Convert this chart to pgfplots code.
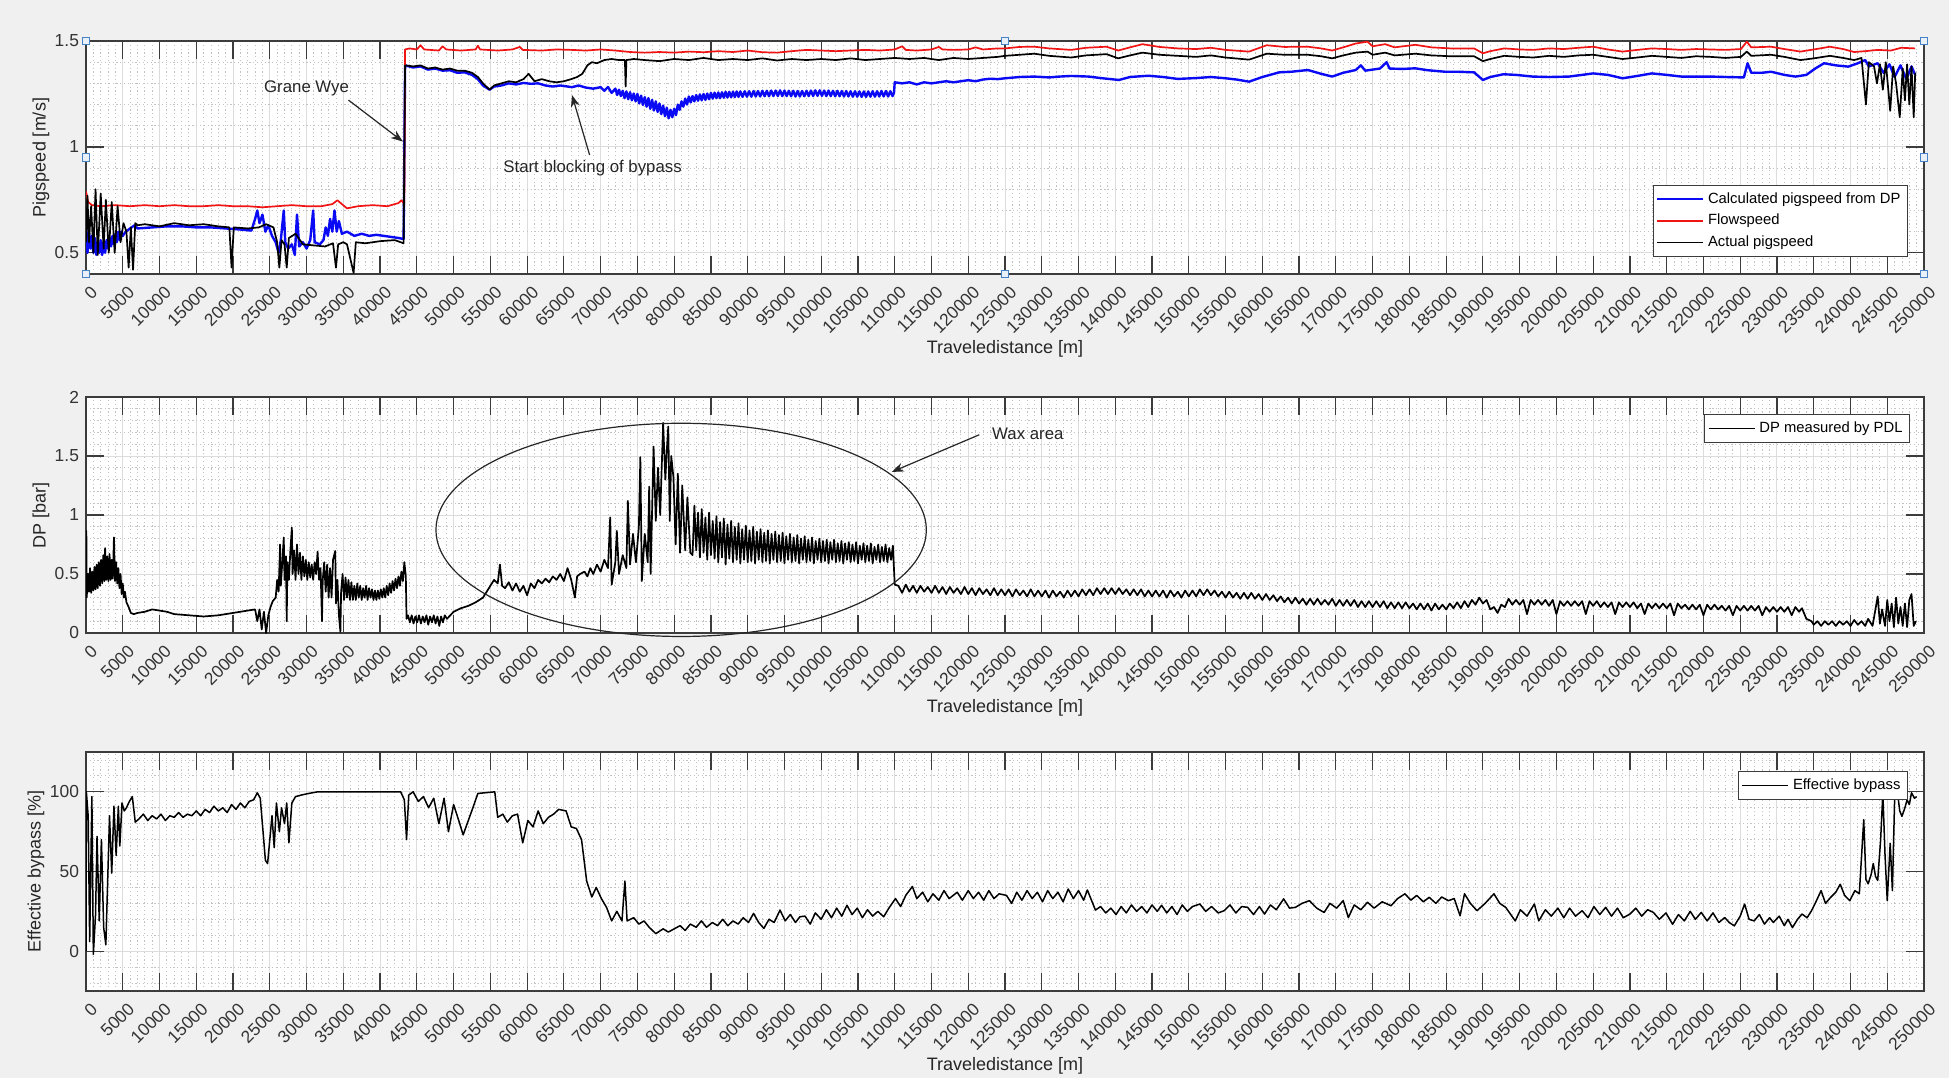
\documentclass[border=0pt]{standalone}
\usepackage{fontspec}
\setmainfont{Liberation Sans}
\usepackage{pgfplots}
\pgfplotsset{compat=1.18}
\usetikzlibrary{arrows.meta}
\definecolor{figbg}{RGB}{240,240,240}
\definecolor{axcol}{RGB}{60,60,60}
\definecolor{gridmaj}{RGB}{220,220,220}
\definecolor{gridmin}{RGB}{195,195,195}
\definecolor{mred}{RGB}{240,20,20}
\definecolor{mblue}{RGB}{10,10,245}
\definecolor{handleblue}{RGB}{70,130,200}
\tikzset{handle/.style={draw=handleblue, fill=handleblue!12, minimum size=3.8pt, inner sep=0pt, line width=0.5pt}}
\pgfplotsset{
 mlab/.style={
  scale only axis, width=919pt,
  xmin=0, xmax=250, xtick={0,5,...,250},
  xticklabels={0,5000,10000,15000,20000,25000,30000,35000,40000,45000,50000,55000,60000,65000,70000,75000,80000,85000,90000,95000,100000,105000,110000,115000,120000,125000,130000,135000,140000,145000,150000,155000,160000,165000,170000,175000,180000,185000,190000,195000,200000,205000,210000,215000,220000,225000,230000,235000,240000,245000,250000},
  minor x tick num=4, minor y tick num=4,
  grid=both,
  major grid style={gridmaj, line width=0.5pt},
  minor grid style={gridmin, line width=0.45pt, dash pattern=on 0.6pt off 1.3pt},
  axis line style={axcol, line width=0.6pt},
  major tick style={axcol, line width=0.6pt},
  major tick length=9pt, minor tick length=0pt,
  tick align=inside,
  axis background/.style={fill=white},
  tick label style={font=\fontsize{8.7}{9.5}\selectfont, text=black!80},
  xticklabel style={xshift=2pt, yshift=-3pt, rotate=45, anchor=north east, inner sep=1.5pt},
  /pgf/number format/assume math mode=true,
  label style={font=\fontsize{9}{10}\selectfont, text=black!85},
  xlabel={Traveledistance [m]},
  xlabel style={at={(axis description cs:0.5,0)}, anchor=center, yshift=-37.5pt},
  legend style={font=\fontsize{7.4}{8.6}\selectfont, draw=axcol, line width=0.5pt, fill=white, inner sep=1.5pt, nodes={inner sep=2pt}},
  legend cell align=left,
  legend image code/.code={\draw[#1, line width=0.8pt] (0pt,0pt) -- (23pt,0pt);},
  clip mode=individual,
  every axis plot/.append style={line join=round, no markers},
 }
}
\begin{document}
\begin{tikzpicture}
\useasboundingbox (0,0) rectangle (974.5pt,539pt);
\fill[figbg] (0,0) rectangle (974.5pt,539pt);

% ---------------- TOP ----------------
\begin{axis}[mlab, at={(43pt,402pt)}, anchor=south west, height=116.5pt,
  ymin=0.4, ymax=1.5, ytick={0,0.5,1,1.5},
  ylabel={Pigspeed [m/s]},
  ylabel style={at={(axis description cs:-0.0245,0.5)}, anchor=center},
  legend style={at={(axis description cs:1,0)}, anchor=south east, xshift=-8pt, yshift=8.5pt}]
\addplot[mblue, line width=1.2pt] coordinates {
(0,0.62)(0.2,0.5)(0.4,0.6)(0.6,0.52)(0.8,0.58)(1.0,0.5)(1.2,0.57)(1.4,0.49)(1.6,0.55)(1.8,0.5)(2.0,0.56)(2.2,0.49)(2.4,0.55)(2.6,0.5)(2.8,0.56)(3.0,0.52)(3.2,0.57)(3.4,0.53)(3.6,0.58)(3.8,0.54)(4.0,0.59)(4.2,0.55)(4.4,0.6)(4.6,0.56)(4.8,0.6)(5.0,0.58)(5.4,0.6)(5.8,0.61)(6.2,0.62)(6.6,0.63)(7,0.615)(9,0.62)(11,0.625)(13,0.625)(15,0.62)(17,0.62)(19,0.615)(21,0.61)(22.5,0.605)(23,0.66)(23.3,0.7)(23.6,0.64)(24,0.68)(24.4,0.6)(24.8,0.63)(25.3,0.58)(25.8,0.55)(26.2,0.5)(26.5,0.56)(26.9,0.7)(27.1,0.55)(27.5,0.52)(28,0.54)(28.4,0.49)(28.7,0.68)(29,0.53)(29.5,0.55)(30,0.52)(30.5,0.56)(30.9,0.7)(31.1,0.55)(31.8,0.54)(32.3,0.56)(32.6,0.62)(32.9,0.58)(33.2,0.66)(33.5,0.6)(33.8,0.7)(34.1,0.6)(34.4,0.65)(34.8,0.59)(35.5,0.6)(36.5,0.58)(37.5,0.59)(38.5,0.58)(39.5,0.585)(40.5,0.58)(41.5,0.575)(42.5,0.57)(43.2,0.565)(43.4,1.385)
(44.5,1.375)(45.5,1.38)(46.5,1.365)(47.5,1.37)(48.5,1.36)(49.5,1.362)(50.5,1.35)(51.5,1.352)(52.5,1.34)(53.3,1.32)(54,1.29)(54.9,1.27)(55.5,1.285)(56.5,1.29)(57.5,1.3)(58.5,1.295)(59.5,1.302)(60.5,1.298)(61.5,1.3)(62.5,1.29)(63.5,1.285)(64.5,1.29)(65.5,1.285)(66.1,1.282)(67,1.29)(68,1.28)(69,1.275)(70,1.282)(70.5,1.265)(71,1.283)(71.5,1.255)
(72,1.275)(72.25,1.245)(72.5,1.27)(72.75,1.24)(73,1.265)(73.25,1.23)(73.5,1.262)(73.75,1.225)(74,1.258)(74.25,1.22)(74.5,1.252)(74.75,1.215)(75,1.25)(75.25,1.205)(75.5,1.242)(75.75,1.198)(76,1.235)(76.25,1.19)(76.5,1.23)(76.75,1.18)(77,1.222)(77.25,1.172)(77.5,1.215)(77.75,1.165)(78,1.205)(78.25,1.155)(78.5,1.195)(78.75,1.145)(79,1.185)(79.25,1.135)(79.5,1.175)(79.75,1.14)(80,1.18)(80.25,1.15)(80.5,1.2)(80.75,1.175)(81,1.215)(81.25,1.19)(81.5,1.228)(81.75,1.2)(82,1.238)(82.25,1.21)(82.5,1.24)(82.75,1.215)(83,1.245)(83.25,1.218)(83.5,1.248)(83.75,1.22)(84,1.25)(84.25,1.222)(84.5,1.252)(84.75,1.225)(85,1.255)(85.25,1.228)(85.5,1.256)(85.75,1.23)(86,1.257)(86.25,1.23)(86.5,1.258)(86.75,1.232)(87,1.26)(87.25,1.233)(87.5,1.26)(87.75,1.234)(88,1.261)(88.25,1.235)(88.5,1.262)(88.75,1.236)(89,1.262)(89.3,1.236)(89.6,1.263)(89.9,1.237)(90.2,1.263)(90.5,1.237)(90.8,1.264)(91.1,1.238)(91.4,1.264)(91.7,1.238)(92,1.265)(92.3,1.239)(92.6,1.265)(92.9,1.239)(93.2,1.266)(93.5,1.24)(93.8,1.266)(94.1,1.24)(94.4,1.267)(94.7,1.24)(95,1.266)(95.3,1.24)(95.6,1.265)(95.9,1.239)(96.2,1.265)(96.5,1.238)(96.8,1.264)(97.1,1.238)(97.4,1.264)(97.7,1.239)(98,1.265)(98.3,1.24)(98.6,1.266)(98.9,1.24)(99.2,1.267)(99.5,1.241)(99.8,1.267)(100.1,1.241)(100.4,1.266)(100.7,1.24)(101,1.266)(101.3,1.24)(101.6,1.265)(101.9,1.239)(102.2,1.265)(102.5,1.239)(102.8,1.264)(103.1,1.238)(103.4,1.264)(103.7,1.238)(104,1.263)(104.3,1.237)(104.6,1.263)(104.9,1.237)(105.2,1.262)(105.5,1.236)(105.8,1.262)(106.1,1.236)(106.4,1.262)(106.7,1.237)(107,1.263)(107.3,1.237)(107.6,1.263)(107.9,1.238)(108.2,1.264)(108.5,1.238)(108.8,1.264)(109.1,1.238)(109.4,1.263)(109.7,1.24)(109.9,1.255)(110,1.305)
(111,1.3)(112,1.305)(113,1.295)(114,1.305)(115,1.3)(116,1.305)(117,1.31)(118,1.305)(119,1.31)(120,1.315)(121,1.31)(122,1.318)(123,1.322)(124,1.32)
(125,1.324)(127,1.33)(129,1.332)(131,1.328)(132.4,1.332)(134,1.335)(136.4,1.332)(138,1.325)(140.5,1.316)(142,1.33)(144.5,1.336)(146.5,1.33)(148.5,1.321)(151,1.325)(153,1.33)(155,1.324)(156.5,1.318)(158.2,1.308)(160,1.33)(162.3,1.352)(164,1.355)(166.2,1.363)(168,1.345)(169.5,1.332)(171,1.35)(172.7,1.363)(173.4,1.385)(174,1.36)(176,1.37)(176.9,1.4)(177.3,1.37)(179,1.368)(180.8,1.371)(182.5,1.362)(184.8,1.355)(186.5,1.355)(188.8,1.352)(190,1.316)(191,1.33)(192.8,1.343)(194.5,1.34)(196.8,1.332)(199,1.33)(201.7,1.332)(203.5,1.34)(205,1.347)(207,1.34)(209,1.324)(211,1.335)(213,1.347)(215,1.34)(217,1.332)(219,1.332)(221,1.332)(223,1.33)(225.5,1.328)(226,1.395)(226.5,1.35)(228,1.35)(229.2,1.355)(231,1.34)(232.5,1.332)(234,1.34)(235.2,1.37)(236.4,1.395)(238,1.385)(239.7,1.379)(241,1.395)(242,1.41)(242.5,1.38)(243.7,1.395)(244.5,1.35)(245.3,1.39)(246,1.33)(246.8,1.385)(247.6,1.32)(248.3,1.38)(248.8,1.34)
};
\addlegendentry{Calculated pigspeed from DP}
\addplot[mred, line width=0.85pt] coordinates {
(0,0.79)(0.3,0.74)(0.8,0.725)(2,0.72)(4,0.725)(6,0.72)(8,0.725)(10,0.72)(12,0.725)(14,0.72)(16,0.72)(18,0.725)(20,0.72)(22,0.72)(24,0.715)(26,0.72)(28,0.725)(30,0.72)(32,0.72)(33.5,0.73)(34.2,0.748)(34.8,0.73)(35.5,0.71)(37,0.72)(39,0.725)(41,0.72)(42.5,0.735)(42.9,0.748)(43.3,0.73)(43.4,1.46)
(44,1.465)(45,1.46)(45.5,1.48)(46,1.46)(48,1.455)(48.5,1.475)(49,1.46)(51,1.455)(53,1.46)(53.3,1.478)(53.6,1.46)(56,1.455)(58,1.46)(59,1.472)(59.4,1.458)(62,1.455)(64,1.46)(66,1.458)(68,1.455)(70,1.46)(72,1.455)(74,1.448)(76,1.445)(78,1.448)(80,1.445)(82,1.45)(84,1.447)(86,1.452)(88,1.448)(90,1.455)(92,1.447)(94,1.445)(96,1.452)(98,1.458)(100,1.455)(102,1.452)(104,1.455)(106,1.458)(108,1.455)(110,1.46)(111,1.475)(111.5,1.458)(113,1.455)(115,1.46)(116,1.472)(116.5,1.46)(118,1.458)(120,1.46)(121,1.47)(122,1.46)(124,1.465)
(125,1.465)(127,1.472)(129,1.473)(131,1.465)(134,1.458)(136,1.468)(138.8,1.473)(140.4,1.455)(142,1.47)(143.7,1.485)(146,1.472)(148.5,1.465)(151,1.462)(153,1.468)(155,1.458)(158.2,1.45)(160.6,1.48)(163,1.472)(166.2,1.473)(168,1.465)(169.5,1.455)(171,1.47)(172.7,1.488)(174.3,1.497)(175,1.475)(176.7,1.485)(178,1.47)(180.8,1.482)(183,1.47)(185.6,1.465)(188.8,1.465)(190,1.442)(191,1.452)(192.9,1.465)(195,1.46)(196.9,1.458)(199,1.465)(201,1.462)(203,1.468)(205,1.473)(207,1.46)(209,1.45)(211,1.458)(213,1.465)(215,1.462)(217,1.458)(219,1.462)(221,1.46)(223,1.458)(225.1,1.462)(225.9,1.497)(226.5,1.47)(229.2,1.473)(231,1.462)(233.2,1.45)(235,1.46)(237.2,1.473)(239,1.462)(240.5,1.448)(242,1.452)(243.7,1.458)(245.5,1.455)(246.9,1.468)(248.8,1.465)
};
\addlegendentry{Flowspeed}
\addplot[black, line width=0.85pt] coordinates {
(0,0.55)(0.2,0.77)(0.4,0.55)(0.7,0.72)(1.0,0.5)(1.3,0.8)(1.6,0.49)(2.0,0.78)(2.4,0.52)(2.7,0.75)(3.1,0.5)(3.5,0.74)(3.9,0.5)(4.3,0.72)(4.7,0.55)(5.1,0.64)(5.5,0.6)(5.8,0.43)(6.1,0.62)(6.4,0.42)(6.7,0.64)(7,0.63)(8,0.635)(10,0.625)(12,0.64)(14,0.63)(16,0.635)(18,0.625)(19.5,0.62)(19.8,0.43)(20.1,0.62)(22,0.615)(23.5,0.62)(24.5,0.635)(25.5,0.62)(26,0.55)(26.3,0.43)(26.6,0.56)(27,0.54)(27.3,0.43)(27.6,0.57)(28.5,0.59)(29.5,0.54)(31,0.535)(32.5,0.53)(33.6,0.545)(34,0.43)(34.3,0.54)(35,0.55)(35.5,0.54)(36.4,0.405)(36.7,0.55)(38,0.545)(40,0.555)(42,0.56)(43.2,0.545)(43.4,1.385)
(44.5,1.38)(45.5,1.385)(46.5,1.37)(47.5,1.375)(48.5,1.365)(49.5,1.37)(50.5,1.36)(51.5,1.36)(52.5,1.35)(53.3,1.33)(54,1.3)(54.9,1.27)(55.5,1.29)(56.5,1.3)(57.5,1.31)(58.5,1.305)(59.5,1.32)(60.2,1.345)(61,1.31)(62,1.32)(63,1.31)(64,1.305)(65,1.31)(66,1.32)(66.8,1.33)(67.5,1.345)(68.2,1.385)(68.8,1.4)(69.5,1.395)(70.5,1.41)(71.5,1.415)(72.5,1.41)(73.3,1.41)(73.4,1.285)(73.5,1.41)(74.5,1.415)(76,1.41)(78,1.405)(80,1.415)(82,1.41)(84,1.42)(86,1.41)(88,1.415)(90,1.41)(92,1.418)(94,1.408)(96,1.415)(98,1.41)(100,1.415)(102,1.41)(104,1.418)(106,1.41)(108,1.415)(110,1.42)(112,1.415)(114,1.42)(116,1.41)(118,1.42)(120,1.415)(122,1.42)(124,1.425)
(125,1.43)(127,1.435)(129,1.44)(131,1.43)(134,1.422)(136,1.432)(138.8,1.438)(140.4,1.418)(142,1.432)(143.7,1.445)(146,1.435)(148.5,1.43)(151,1.425)(153,1.432)(155,1.422)(158.2,1.412)(160.6,1.44)(163,1.435)(166.2,1.435)(168,1.428)(169.5,1.418)(171,1.432)(172.7,1.445)(174.3,1.45)(175,1.435)(176.7,1.445)(178,1.432)(180.8,1.44)(183,1.432)(185.6,1.428)(188.8,1.428)(190,1.405)(191,1.415)(192.9,1.43)(195,1.425)(196.9,1.422)(199,1.43)(201,1.425)(203,1.432)(205,1.435)(207,1.425)(209,1.415)(211,1.422)(213,1.43)(215,1.425)(217,1.42)(219,1.428)(221,1.425)(223,1.42)(225.1,1.425)(225.9,1.45)(226.5,1.43)(229.2,1.435)(231,1.425)(233.2,1.41)(235,1.418)(237.2,1.43)(239,1.42)(240.5,1.41)(241.5,1.42)(242.1,1.2)(242.5,1.4)(243.2,1.38)(243.6,1.3)(244,1.39)(244.4,1.27)(244.8,1.4)(245.4,1.17)(245.8,1.38)(246.2,1.3)(246.7,1.14)(247.1,1.37)(247.4,1.22)(247.7,1.39)(248,1.2)(248.3,1.38)(248.6,1.14)(248.8,1.35)
};
\addlegendentry{Actual pigspeed}
\node[font=\fontsize{8.4}{9}\selectfont, text=black!85] at (axis cs:30,1.277) {Grane Wye};
\draw[black!85, line width=0.6pt, -{Stealth[length=6pt,width=4.5pt]}] (axis cs:35.7,1.221) -- (axis cs:43.1,1.025);
\node[font=\fontsize{8.4}{9}\selectfont, text=black!85] at (axis cs:68.9,0.899) {Start blocking of bypass};
\draw[black!85, line width=0.6pt, -{Stealth[length=6pt,width=4.5pt]}] (axis cs:68.5,0.962) -- (axis cs:66.1,1.245);
\node[handle] at (rel axis cs:0,0) {};
\node[handle] at (rel axis cs:0,0.5) {};
\node[handle] at (rel axis cs:0,1) {};
\node[handle] at (rel axis cs:0.5,0) {};
\node[handle] at (rel axis cs:0.5,1) {};
\node[handle] at (rel axis cs:1,0) {};
\node[handle] at (rel axis cs:1,0.5) {};
\node[handle] at (rel axis cs:1,1) {};
\end{axis}

% ---------------- MIDDLE ----------------
\begin{axis}[mlab, at={(43pt,222.5pt)}, anchor=south west, height=118pt,
  ymin=0, ymax=2, ytick={0,0.5,1,1.5,2},
  ylabel={DP [bar]},
  ylabel style={at={(axis description cs:-0.0245,0.5)}, anchor=center},
  legend style={at={(axis description cs:1,1)}, anchor=north east, xshift=-7pt, yshift=-8.5pt}]
\addplot[black, line width=0.85pt] coordinates {
(0,0.44)(0.05,0.866)(0.1,0.3)(0.25,0.5)(0.4,0.35)(0.55,0.55)(0.7,0.34)(0.85,0.52)(1.0,0.36)(1.15,0.56)(1.3,0.37)(1.45,0.58)(1.6,0.38)(1.75,0.6)(1.9,0.4)(2.05,0.62)(2.2,0.42)(2.35,0.66)(2.5,0.44)(2.6,0.72)(2.75,0.45)(2.9,0.65)(3.05,0.44)(3.2,0.67)(3.35,0.45)(3.5,0.62)(3.65,0.46)(3.8,0.81)(3.95,0.44)(4.1,0.6)(4.25,0.42)(4.4,0.55)(4.55,0.38)(4.7,0.5)(4.85,0.33)(5.0,0.42)(5.15,0.3)(5.3,0.35)(5.5,0.26)(5.8,0.22)(6.1,0.17)(6.5,0.16)(7,0.17)(8,0.18)(9,0.2)(10,0.19)(11,0.18)(12,0.16)(14,0.15)(16,0.14)(18,0.15)(20,0.17)(22,0.19)(23,0.2)(23.3,0.1)(23.6,0.2)(23.9,0.03)(24.2,0.18)(24.5,0.0)(24.8,0.15)(25.1,0.22)(25.4,0.27)
(25.8,0.3)(26.0,0.45)(26.2,0.35)(26.4,0.75)(26.5,0.4)(26.7,0.6)(26.9,0.81)(27.0,0.45)(27.2,0.65)(27.3,0.1)(27.4,0.6)(27.6,0.45)(27.8,0.7)(28.0,0.894)(28.1,0.5)(28.3,0.7)(28.5,0.45)(28.7,0.75)(28.9,0.5)(29.1,0.68)(29.3,0.45)(29.5,0.65)(29.7,0.48)(29.9,0.62)(30.1,0.45)(30.3,0.6)(30.5,0.47)(30.7,0.58)(30.9,0.45)(31.1,0.6)(31.3,0.5)(31.5,0.69)(31.7,0.45)(31.9,0.55)(32.1,0.1)(32.2,0.45)(32.4,0.6)(32.6,0.35)(32.8,0.58)(33.0,0.3)(33.2,0.55)(33.4,0.3)(33.6,0.62)(33.9,0.695)(34.0,0.25)(34.2,0.45)(34.4,0.15)(34.6,0.01)(34.7,0.35)(34.9,0.5)(35.1,0.28)(35.3,0.47)(35.5,0.3)(35.7,0.45)(35.9,0.28)(36.1,0.43)(36.3,0.28)(36.5,0.4)(36.7,0.28)(36.9,0.42)(37.1,0.3)(37.3,0.4)(37.5,0.28)(37.7,0.38)(37.9,0.3)(38.1,0.4)(38.3,0.28)(38.5,0.38)(38.7,0.3)(38.9,0.37)(39.1,0.28)(39.3,0.36)(39.5,0.28)(39.7,0.36)(39.9,0.29)(40.1,0.37)(40.3,0.3)(40.5,0.38)(40.7,0.3)(40.9,0.4)(41.1,0.32)(41.3,0.42)(41.5,0.34)(41.7,0.44)(41.9,0.36)(42.1,0.46)(42.3,0.38)(42.5,0.48)(42.7,0.4)(42.9,0.52)(43.1,0.44)(43.3,0.6)(43.5,0.48)(43.6,0.12)
(43.8,0.15)(44.05,0.09)(44.3,0.15)(44.55,0.08)(44.8,0.14)(45.05,0.09)(45.3,0.15)(45.55,0.08)(45.8,0.14)(46.05,0.09)(46.3,0.15)(46.55,0.07)(46.8,0.14)(47.05,0.09)(47.3,0.15)(47.55,0.08)(47.8,0.14)(48.05,0.06)(48.3,0.14)(48.55,0.09)(48.8,0.15)(49.1,0.12)(50,0.18)(51,0.21)(52,0.23)(53,0.26)(54,0.3)(55,0.4)(55.5,0.45)(56,0.42)(56.3,0.58)(56.6,0.4)(57,0.38)(57.5,0.43)(58,0.36)(58.5,0.42)(59,0.35)(59.5,0.4)(60,0.32)(60.5,0.42)(61,0.38)(61.5,0.45)(62,0.42)(62.5,0.46)(63,0.43)(63.5,0.48)(64,0.45)(64.5,0.5)(65,0.44)(65.5,0.55)(66,0.45)(66.5,0.3)(66.8,0.48)(67.2,0.5)(67.8,0.52)(68.2,0.48)(68.6,0.55)(69,0.5)
(69.5,0.58)(70,0.52)(70.5,0.62)(71.0,0.55)(71.3,0.98)(71.5,0.41)(72.0,0.6)(72.2,0.866)(72.5,0.5)(73,0.66)(73.5,0.55)(73.7,1.12)(74,0.58)(74.4,0.84)(74.8,0.6)(75.2,0.9)(75.4,1.49)(75.6,0.44)(76,0.84)(76.4,0.6)(76.6,1.24)(76.8,0.5)(77.2,1.58)(77.5,0.95)(77.8,1.4)(78.1,1.0)(78.5,1.78)(78.8,1.3)(79.0,1.55)(79.2,1.75)(79.4,0.95)(79.6,1.5)(79.9,1.32)(80.2,0.75)(80.5,1.35)(80.8,0.68)(81.1,1.25)(81.5,0.7)(81.8,1.15)(82.2,0.68)
(82.5,0.66)(82.75,1.08)(83,0.7)(83.25,1.02)(83.5,0.64)(83.75,1.05)(84,0.68)(84.25,0.98)(84.5,0.62)(84.75,1.02)(85,0.66)(85.25,0.95)(85.5,0.63)(85.75,0.99)(86,0.6)(86.25,0.94)(86.5,0.64)(86.75,0.97)(87,0.58)(87.25,0.92)(87.5,0.63)(87.75,0.95)(88,0.6)(88.25,0.9)(88.5,0.62)(88.75,0.93)(89,0.59)(89.25,0.88)(89.5,0.62)(89.75,0.91)(90,0.6)(90.25,0.87)(90.5,0.61)(90.75,0.9)(91,0.59)(91.25,0.86)(91.5,0.62)(91.75,0.88)(92,0.6)(92.25,0.85)(92.5,0.61)(92.75,0.87)(93,0.59)(93.25,0.84)(93.5,0.62)(93.75,0.86)(94,0.6)(94.25,0.83)(94.5,0.61)(94.75,0.85)(95,0.59)(95.25,0.82)(95.5,0.62)(95.75,0.84)(96,0.6)(96.25,0.81)(96.5,0.61)(96.75,0.83)(97,0.59)(97.25,0.8)(97.5,0.62)(97.75,0.82)(98,0.6)(98.25,0.79)(98.5,0.61)(98.75,0.81)(99,0.59)(99.25,0.78)(99.5,0.62)(99.75,0.8)(100,0.6)(100.25,0.78)(100.5,0.61)(100.75,0.79)(101,0.59)(101.25,0.77)(101.5,0.62)(101.75,0.79)(102,0.6)(102.25,0.76)(102.5,0.61)(102.75,0.78)(103,0.59)(103.25,0.76)(103.5,0.62)(103.75,0.77)(104,0.6)(104.25,0.75)(104.5,0.61)(104.75,0.77)(105,0.59)(105.25,0.74)(105.5,0.62)(105.75,0.76)(106,0.6)(106.25,0.74)(106.5,0.61)(106.75,0.76)(107,0.59)(107.25,0.73)(107.5,0.62)(107.75,0.75)(108,0.6)(108.25,0.73)(108.5,0.61)(108.75,0.75)(109,0.6)(109.25,0.72)(109.5,0.62)(109.75,0.74)(110,0.41)
(110.5,0.40)(111,0.34)(111.5,0.41)(112,0.35)(112.5,0.40)(113,0.34)(113.5,0.40)(114,0.35)(114.5,0.39)(115,0.34)(115.5,0.40)(116,0.34)(116.5,0.39)(117,0.33)(117.5,0.39)(118,0.34)(118.5,0.38)(119,0.33)(119.5,0.39)(120,0.33)(120.5,0.38)(121,0.32)(121.5,0.38)(122,0.33)(122.5,0.37)(123,0.32)(123.5,0.38)(124,0.32)(124.5,0.37)(125,0.32)(125.5,0.37)(126,0.31)(126.5,0.37)(127,0.32)(127.5,0.36)(128,0.31)(128.5,0.37)(129,0.31)(129.5,0.36)(130,0.31)(130.5,0.36)(131,0.30)(131.5,0.36)(132,0.31)(132.5,0.35)(133,0.30)(133.5,0.36)(134,0.31)(134.5,0.36)(135,0.31)(135.5,0.37)(136,0.32)(136.5,0.37)(137,0.32)(137.5,0.38)(138,0.33)(138.5,0.38)(139,0.33)(139.5,0.38)(140,0.33)(140.5,0.38)(141,0.33)(141.5,0.37)(142,0.32)(142.5,0.37)(143,0.32)(143.5,0.37)(144,0.31)(144.5,0.36)(145,0.31)(145.5,0.36)(146,0.31)(146.5,0.36)(147,0.30)(147.5,0.36)(148,0.31)(148.5,0.35)(149,0.30)(149.5,0.36)(150,0.31)
(150.5,0.36)(151,0.31)(151.5,0.37)(152,0.32)(152.5,0.37)(153,0.32)(153.5,0.36)(154,0.31)(154.5,0.35)(155,0.30)(155.5,0.35)(156,0.30)(156.5,0.34)(157,0.29)(157.5,0.34)(158,0.29)(158.5,0.34)(159,0.29)(159.5,0.33)(160,0.28)(160.5,0.33)(161,0.28)(161.5,0.32)(162,0.27)(162.5,0.31)(163,0.26)(163.5,0.30)(164,0.25)(164.5,0.30)(165,0.25)(165.5,0.29)(166,0.24)(166.5,0.29)(167,0.24)(167.5,0.29)(168,0.24)(168.5,0.28)(169,0.24)(169.5,0.29)(170,0.23)(170.5,0.28)(171,0.23)(171.5,0.28)(172,0.23)(172.5,0.28)(173,0.22)(173.5,0.27)(174,0.22)(174.5,0.27)(175,0.22)(175.5,0.27)(176,0.22)(176.5,0.27)(177,0.21)(177.5,0.26)(178,0.21)(178.5,0.26)(179,0.21)(179.5,0.26)(180,0.21)(180.5,0.25)(181,0.2)(181.5,0.25)(182,0.2)(182.5,0.25)(183,0.19)(183.5,0.25)(184,0.2)(184.5,0.24)(185,0.2)(185.5,0.25)(186,0.21)(186.5,0.26)(187,0.21)(187.5,0.27)(188,0.22)(188.5,0.28)(189,0.24)(189.5,0.3)(190,0.25)(190.5,0.28)(191,0.2)(191.5,0.22)(192,0.17)(192.5,0.24)(193,0.22)
(193.5,0.29)(194,0.24)(194.5,0.28)(195,0.24)(195.5,0.28)(196,0.16)(196.5,0.28)(197,0.24)(197.5,0.28)(198,0.24)(198.5,0.28)(199,0.23)(199.5,0.28)(200,0.16)(200.5,0.27)(201,0.23)(201.5,0.27)(202,0.23)(202.5,0.27)(203,0.23)(203.5,0.27)(204,0.16)(204.5,0.27)(205,0.23)(205.5,0.27)(206,0.22)(206.5,0.26)(207,0.22)(207.5,0.26)(208,0.16)(208.5,0.26)(209,0.22)(209.5,0.26)(210,0.22)(210.5,0.26)(211,0.21)(211.5,0.25)(212,0.16)(212.5,0.25)(213,0.21)(213.5,0.25)(214,0.21)(214.5,0.25)(215,0.21)(215.5,0.25)(216,0.15)(216.5,0.25)(217,0.21)(217.5,0.24)(218,0.2)(218.5,0.24)(219,0.2)(219.5,0.24)(220,0.15)(220.5,0.24)(221,0.2)(221.5,0.24)(222,0.2)(222.5,0.23)(223,0.19)(223.5,0.23)(224,0.15)(224.5,0.23)(225,0.19)(225.5,0.23)(226,0.19)(226.5,0.23)(227,0.19)(227.5,0.23)(228,0.15)(228.5,0.22)(229,0.18)(229.5,0.22)(230,0.18)(230.5,0.22)(231,0.18)(231.5,0.22)(232,0.15)(232.5,0.22)(233,0.18)(233.4,0.21)(234,0.12)(234.7,0.1)
(235,0.07)(235.5,0.1)(236,0.06)(236.5,0.1)(237,0.07)(237.5,0.1)(238,0.06)(238.5,0.1)(239,0.07)(239.5,0.1)(240,0.06)(240.5,0.11)(241,0.07)(241.5,0.1)(242,0.06)(242.4,0.12)(243,0.06)(243.7,0.31)(244,0.08)(244.3,0.2)(244.7,0.06)(245,0.28)(245.3,0.1)(245.6,0.25)(245.9,0.05)(246.2,0.3)(246.5,0.08)(246.8,0.22)(247.1,0.06)(247.4,0.25)(247.7,0.05)(248,0.28)(248.3,0.33)(248.6,0.06)(248.9,0.1)
};
\addlegendentry{DP measured by PDL}
\draw[black!85, line width=0.6pt] (axis cs:80.95,0.874) ellipse [x radius=122.6pt, y radius=53.3pt];
\node[font=\fontsize{8.4}{9}\selectfont, text=black!85, anchor=west] at (axis cs:122.3,1.69) {Wax area};
\draw[black!85, line width=0.6pt, -{Stealth[length=6pt,width=4.5pt]}] (axis cs:121.5,1.68) -- (axis cs:109.6,1.365);
\end{axis}

% ---------------- BOTTOM ----------------
\begin{axis}[mlab, at={(43pt,43.5pt)}, anchor=south west, height=119.5pt,
  ymin=-25, ymax=125, ytick={-50,0,50,100,150},
  ylabel={Effective bypass [\%]},
  ylabel style={at={(axis description cs:-0.0272,0.5)}, anchor=center},
  legend style={at={(axis description cs:1,1)}, anchor=north east, xshift=-8pt, yshift=-9.5pt}]
\addplot[black, line width=0.75pt] coordinates {
(0,0)(0.05,100)(0.3,84.6)(0.5,6)(0.8,97)(1.0,-2)(1.3,23)(1.5,72)(1.8,19)(2.1,70)(2.4,15)(2.7,4)(3.2,85)(3.5,49)(3.8,91)(4.1,60)(4.4,91)(4.6,66)(4.9,93)(5.2,88)(5.5,90)(5.9,94)(6.3,97)(6.7,81)(7.2,83)(7.8,86)(8.4,82)(9,85)(9.6,83)(10.2,86)(10.8,82)(11.4,85)(12,84)(12.6,87)(13.2,84)(13.8,86)(14.4,85)(15,88)(15.6,85)(16.2,89)(16.8,87)(17.4,91)(18,88)(18.6,90)(19.2,87)(19.8,92)(20.4,89)(21,93)(21.6,90)(22.2,94)(22.8,95)(23.3,99.4)(23.7,96)(24.1,74)(24.4,57)(24.7,55)(25.0,70)(25.3,85)(25.6,65)(25.9,93)(26.3,75)(26.6,90)(27,80)(27.3,93)(27.6,68)(28.0,93)(28.5,97)(29.3,98)(30.3,99)(31.5,100)(42.8,100)(43.3,95)(43.6,70)(43.9,98)(44.5,100)(45.2,94)(45.9,97)(46.6,90)(47.3,96)(48.0,80)(48.7,96)(49.3,75)(50,92)(50.7,82)(51.3,73)(52,82)(52.7,91)(53.3,99)(55.6,100)(56,84)(56.7,86)(57.3,81)(58,85)(58.7,86)(59.4,68)(60.1,82)(60.8,78)(61.5,88)(62.2,80)(62.9,84)(63.6,86)(64.3,89)(65.3,88)(66,78)(66.7,77)(67.4,70)(68.1,44)(68.8,34)(69.4,40)(70.1,33)(70.8,27.5)(71.5,19)(72.2,25)(72.9,19)(73.3,44)(73.6,19)(74.5,21)(75.2,17)(75.9,19)(76.6,15)(77.5,11)(78.5,14)(79.2,12)(80,14)(80.8,16)(81.5,13)(82.2,17)(83,15)(83.7,19)(84.4,15)(85.2,18)(85.9,16)(86.6,20)(87.3,16)(88,19)(88.7,17)(89.4,21)(90.1,18)(90.8,23.7)(91.5,18)(92.2,14.3)(92.9,20)(93.6,18)(94.4,25.8)(95.1,19)(95.8,23)(96.5,18)(97.1,21.6)
(97.8,22)(98.5,17)(99.2,24)(100,20)(100.7,26)(101.4,21)(102.1,27)(102.8,22)(103.5,28.8)(104.2,23)(104.9,27)(105.6,21)(106.3,26)(107,22)(107.7,25)(108.5,21.6)(109.2,27)(110.1,33)(110.8,28)(111.5,35)(112.4,40.6)(113,33)(113.8,37)(114.5,31)(115.2,36)(116,32)(116.7,38)(117.4,33)(118.5,37)(119.2,32)(120,38)(120.7,33)(121.4,37)(122.1,32)(122.8,38)(123.5,33)(124.2,36)(125.2,35)(125.9,30)(126.6,37)(127.3,32)(128,38)(128.7,33)(129.4,37)(130.1,31)(130.8,38)(131.5,33)(132.2,37)(132.9,31)(133.6,39)(134.3,33)(135,38)(135.7,32)(136.2,38.4)(137.3,25.8)(138,28)(138.7,24)(139.4,27)(140.1,23)(140.8,28)(141.5,24)(142.2,29)(142.9,25)(143.6,28)(144.3,24)(145,29)(145.7,25)(146.3,28.8)(147,24)(147.7,28)(148.4,23)(149.1,29)(149.8,25)(150.5,28)
(151.5,29.6)(152.3,25)(153.1,28)(154,24)(154.8,25.4)(155.6,29)(156.4,24)(157.2,28)(158,27.5)(158.8,23)(159.6,28)(160.3,23.3)(161.1,29)(161.9,26)(162.9,32.8)(163.7,27)(164.5,27.5)(165.4,30)(166.4,31.7)(167.4,27)(168.4,24.3)(169.2,30)(170.1,27)(171,31.7)(171.7,21.1)(172.5,29)(173.4,26)(174.3,30.7)(175.2,27)(176.3,31)(177.5,28.5)(178.4,33)(179.4,36)(180.2,32)(181,35)(181.9,31)(182.7,33.8)(183.6,30)(184.4,34)(185.3,31.7)(186.1,33)(186.9,22.2)(187.5,36)(188.3,30)(189.2,25.4)(190.3,30)(191.5,36)(192.3,30)(193.1,27.5)(194.4,19)(195.1,26)(196,22)(197,29.6)(197.6,19)(198.5,26)(199.3,22)(200.2,27)(201,21)(201.8,27)(202.6,22)(203.5,25.4)(204.3,21)(205.1,28)(205.9,23)(206.7,27.5)(207.5,22)(208.3,27)(209.1,21)(210,23.3)(210.8,27)(211.6,22)(212.4,26)(213.2,24.3)(214,20)(214.9,24)(215.8,16.9)(216.6,23)(217.4,19)(218.2,25)(218.9,20)(219.7,24.3)(220.5,19)(221.3,24)(222.1,18)(222.9,21.1)(223.5,18)(224.2,15.9)(225,22)(225.6,29.6)(226.2,20)(226.9,19)(227.6,23)(228.3,17)(229,21)(229.5,18)(230.3,22)(231,16)(231.5,20)(232.1,14.8)(232.8,20)(233.4,23.3)(234.1,21)(234.7,25.4)(235.3,31)(236,38)(236.6,30)(237.3,33.8)(238,37)(238.6,42)(239.2,35)(239.9,31.7)(240.6,38)(241.2,36)(241.8,82.5)(242.1,45)(242.4,42.3)(242.8,48)(243.1,55)(243.4,47)(243.7,44.4)(244.1,70)(244.4,99.4)(244.7,60)(245,31.7)(245.4,67.7)(245.7,38)(246,95)(246.4,99.4)(246.7,88)(247,84.6)(247.4,90)(247.7,95)(248,92)(248.3,99.4)(248.7,96)(249,97)
};
\addlegendentry{Effective bypass}
\end{axis}
\end{tikzpicture}
\end{document}
